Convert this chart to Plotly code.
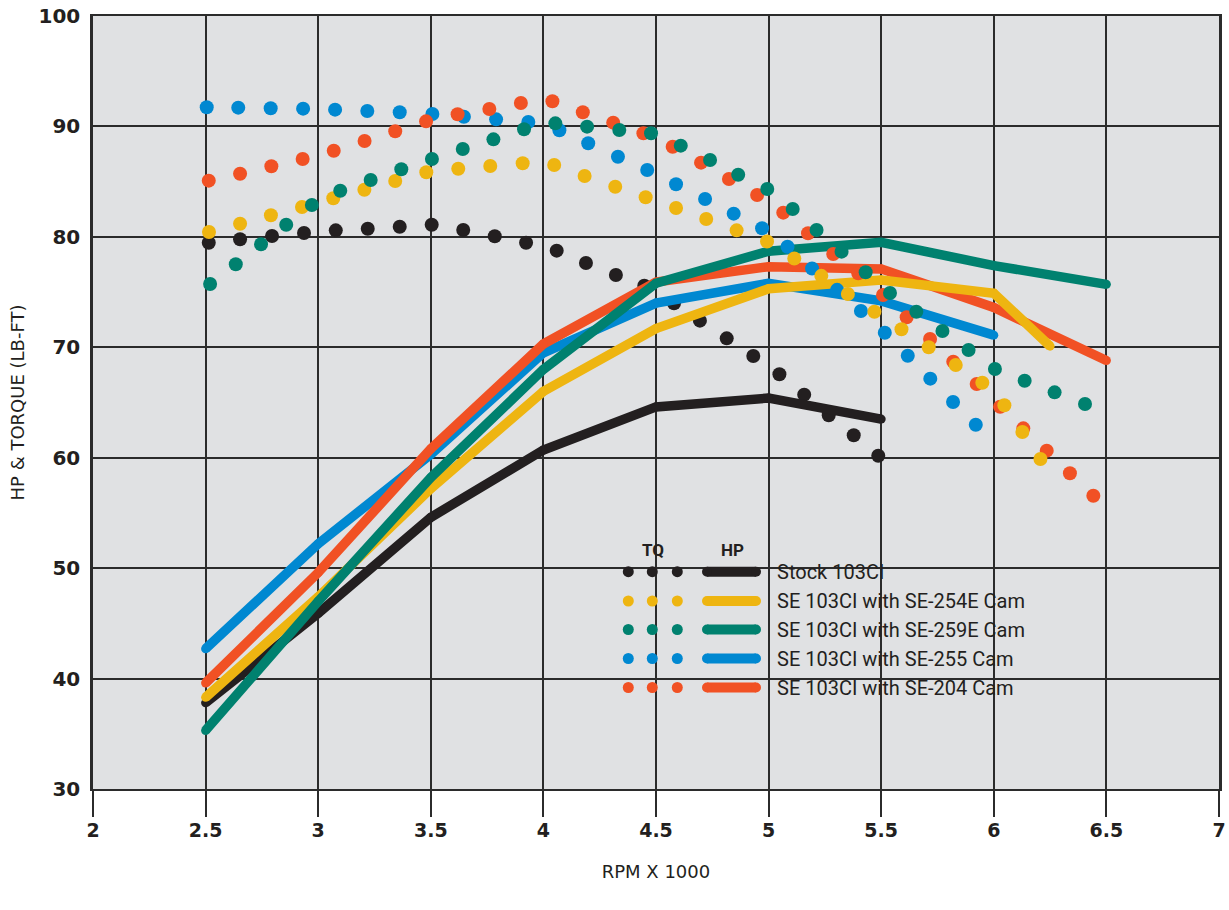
import plotly.graph_objects as go

# ---------------- data ----------------
hp_rpm = [2.5, 3.0, 3.5, 4.0, 4.5, 5.0, 5.5, 6.0, 6.5]
hp_rpm_254 = [2.5, 3.0, 3.5, 4.0, 4.5, 5.0, 5.5, 6.0, 6.25]

hp_stock = [37.8, 45.9, 54.6, 60.7, 64.6, 65.4, 63.5]
hp_254 = [38.3, 47.4, 57.2, 66.0, 71.7, 75.3, 76.1, 74.9, 70.1]
hp_259 = [35.3, 47.0, 58.2, 68.0, 75.8, 78.7, 79.5, 77.4, 75.7]
hp_255 = [42.7, 52.2, 60.3, 69.5, 74.0, 75.8, 74.2, 71.1]
hp_204 = [39.6, 49.6, 60.8, 70.3, 75.9, 77.3, 77.1, 73.6, 68.8]

tq_stock_rpm = [2.514, 2.653, 2.795, 2.937, 3.078, 3.220, 3.362, 3.504, 3.644, 3.784, 3.923, 4.059,
                4.189, 4.322, 4.448, 4.580, 4.695, 4.814, 4.932, 5.048, 5.158, 5.267, 5.378, 5.487]
tq_stock = [79.47, 79.78, 80.08, 80.35, 80.59, 80.74, 80.92, 81.10, 80.62, 80.05, 79.47, 78.75,
            77.63, 76.55, 75.58, 73.98, 72.41, 70.81, 69.21, 67.56, 65.71, 63.84, 62.03, 60.18]

tq_254_rpm = [2.515, 2.653, 2.790, 2.928, 3.067, 3.205, 3.342, 3.480, 3.622, 3.764, 3.908, 4.048,
              4.183, 4.319, 4.454, 4.589, 4.723, 4.858, 4.993, 5.114, 5.234, 5.352, 5.470, 5.590,
              5.711, 5.831, 5.949, 6.047, 6.127, 6.207]
tq_254 = [80.44, 81.19, 81.95, 82.70, 83.49, 84.27, 85.06, 85.85, 86.17, 86.42, 86.66, 86.51,
          85.51, 84.54, 83.58, 82.61, 81.62, 80.59, 79.58, 78.04, 76.47, 74.83, 73.22, 71.63,
          70.00, 68.40, 66.79, 64.75, 62.33, 59.88]

tq_259_rpm = [2.520, 2.634, 2.746, 2.858, 2.972, 3.098, 3.233, 3.369, 3.505, 3.642, 3.778, 3.914,
              4.053, 4.194, 4.337, 4.478, 4.610, 4.740, 4.865, 4.994, 5.107, 5.213, 5.324, 5.431,
              5.539, 5.656, 5.772, 5.888, 6.005, 6.137, 6.270, 6.405]
tq_259 = [75.73, 77.52, 79.33, 81.10, 82.88, 84.18, 85.15, 86.12, 87.05, 87.96, 88.83, 89.74,
          90.28, 89.98, 89.68, 89.38, 88.26, 86.96, 85.63, 84.33, 82.52, 80.62, 78.66, 76.79,
          74.92, 73.22, 71.48, 69.75, 68.03, 66.97, 65.92, 64.86]

tq_255_rpm = [2.505, 2.645, 2.789, 2.933, 3.075, 3.218, 3.362, 3.507, 3.647, 3.790, 3.933, 4.071,
              4.199, 4.331, 4.461, 4.589, 4.718, 4.845, 4.971, 5.084, 5.193, 5.304, 5.410, 5.516,
              5.618, 5.718, 5.819, 5.920]
tq_255 = [91.73, 91.70, 91.64, 91.61, 91.52, 91.40, 91.28, 91.13, 90.88, 90.64, 90.40, 89.65,
          88.47, 87.26, 86.05, 84.76, 83.43, 82.10, 80.78, 79.11, 77.13, 75.20, 73.29, 71.32,
          69.24, 67.16, 65.05, 62.99]

tq_204_rpm = [2.514, 2.653, 2.792, 2.931, 3.069, 3.206, 3.342, 3.479, 3.619, 3.760, 3.900, 4.040,
              4.175, 4.310, 4.444, 4.574, 4.700, 4.824, 4.949, 5.065, 5.175, 5.287, 5.398, 5.508,
              5.613, 5.717, 5.820, 5.924, 6.028, 6.131, 6.235, 6.338, 6.442]
tq_204 = [85.09, 85.72, 86.39, 87.05, 87.80, 88.68, 89.56, 90.46, 91.10, 91.58, 92.12, 92.28,
          91.28, 90.34, 89.38, 88.16, 86.72, 85.24, 83.79, 82.19, 80.32, 78.45, 76.70, 74.74,
          72.72, 70.75, 68.70, 66.68, 64.62, 62.66, 60.64, 58.59, 56.56]

series_names = ["Stock 103CI", "SE 103CI with SE-254E Cam", "SE 103CI with SE-259E Cam",
                "SE 103CI with SE-255 Cam", "SE 103CI with SE-204 Cam"]
x_ticks = [2, 2.5, 3, 3.5, 4, 4.5, 5, 5.5, 6, 6.5, 7]
x_tick_text = ["2", "2.5", "3", "3.5", "4", "4.5", "5", "5.5", "6", "6.5", "7"]
y_ticks = [30, 40, 50, 60, 70, 80, 90, 100]

# ---------------- style ----------------
C_BLACK = "#231f20"
C_YEL = "#eeb511"
C_GRN = "#00816f"
C_BLU = "#0088d1"
C_RED = "#f15124"
BG = "#e0e1e3"
GRID = "#2b2b2b"
colors = [C_BLACK, C_YEL, C_GRN, C_BLU, C_RED]

LW = 9.5
DOT = 14

fig = go.Figure()

def add_line(x, y, c):
    fig.add_trace(go.Scatter(x=x, y=y, mode="lines+markers",
                             line=dict(color=c, width=LW),
                             marker=dict(color=c, size=LW - 0.5),
                             showlegend=False, hoverinfo="skip"))

def add_dots(x, y, c):
    fig.add_trace(go.Scatter(x=x, y=y, mode="markers",
                             marker=dict(color=c, size=DOT, line=dict(width=0)),
                             showlegend=False, hoverinfo="skip"))

# z-order: black dots, lines, colored dots
add_dots(tq_stock_rpm, tq_stock, C_BLACK)
add_line(hp_rpm[:len(hp_255)], hp_255, C_BLU)
add_line(hp_rpm[:len(hp_stock)], hp_stock, C_BLACK)
add_line(hp_rpm, hp_204, C_RED)
add_line(hp_rpm_254, hp_254, C_YEL)
add_line(hp_rpm, hp_259, C_GRN)
add_dots(tq_255_rpm, tq_255, C_BLU)
add_dots(tq_204_rpm, tq_204, C_RED)
add_dots(tq_254_rpm, tq_254, C_YEL)
add_dots(tq_259_rpm, tq_259, C_GRN)

# ---------------- legend (custom, in paper coords) ----------------
W, H = 1229, 910
L, R, T, B = 93, 10, 16, 121
PW, PH = W - L - R, H - T - B

def px(xp):
    return (xp - L) / PW

def py(yp):
    return (H - B - yp) / PH

shapes = []
annotations = []
shapes.append(dict(type="rect", xref="paper", yref="paper", layer="between",
                   x0=px(603), x1=px(1053), y0=py(710), y1=py(531),
                   fillcolor=BG, line=dict(width=0)))
for hdr, hx in [("TQ", 653), ("HP", 732)]:
    annotations.append(dict(xref="paper", yref="paper", x=px(hx), y=py(550),
                            text="<b>" + hdr + "</b>", xanchor="center", yanchor="middle",
                            showarrow=False, font=dict(family="Roboto", size=17, color=C_BLACK)))
row_y = [571.7, 601, 629.5, 658.5, 687.5]
for name, c, ry in zip(series_names, colors, row_y):
    for dx in [628.3, 652.3, 677.3]:
        shapes.append(dict(type="circle", xref="paper", yref="paper", layer="above",
                           xsizemode="pixel", ysizemode="pixel",
                           xanchor=px(dx), yanchor=py(ry), x0=-5.5, x1=5.5, y0=-5.5, y1=5.5,
                           fillcolor=c, line=dict(width=0)))
    shapes.append(dict(type="line", xref="paper", yref="paper", layer="above",
                       x0=px(707), x1=px(756), y0=py(ry), y1=py(ry),
                       line=dict(color=c, width=10)))
    for ex in [707, 756]:
        shapes.append(dict(type="circle", xref="paper", yref="paper", layer="above",
                           xsizemode="pixel", ysizemode="pixel",
                           xanchor=px(ex), yanchor=py(ry), x0=-5, x1=5, y0=-5, y1=5,
                           fillcolor=c, line=dict(width=0)))
    annotations.append(dict(xref="paper", yref="paper", x=px(775), y=py(ry), text=name,
                            xanchor="left", yanchor="middle", showarrow=False,
                            font=dict(family="Roboto", size=20, color=C_BLACK)))

fig.update_layout(
    width=W, height=H,
    margin=dict(l=L, r=R, t=T, b=B),
    paper_bgcolor="white",
    plot_bgcolor=BG,
    showlegend=False,
    shapes=shapes,
    annotations=annotations,
    xaxis=dict(range=[2, 7], tickvals=x_ticks, ticktext=x_tick_text,
               showgrid=True, gridcolor=GRID, gridwidth=2,
               showline=True, linecolor=GRID, linewidth=2, mirror=True,
               ticks="outside", ticklen=26, tickwidth=1.5, tickcolor=GRID,
               ticklabelstandoff=-3,
               zeroline=False, automargin=False,
               tickfont=dict(family="DejaVu Sans", size=19, color=C_BLACK, weight="bold"),
               title=dict(text="RPM X 1000", standoff=26,
                          font=dict(family="DejaVu Sans", size=18, color=C_BLACK))),
    yaxis=dict(range=[30, 100], tickvals=y_ticks,
               showgrid=True, gridcolor=GRID, gridwidth=2,
               showline=True, linecolor=GRID, linewidth=2.5, mirror=True,
               ticks="", ticklabelstandoff=6,
               zeroline=False, automargin=False,
               tickfont=dict(family="DejaVu Sans", size=20, color=C_BLACK, weight="bold"),
               title=dict(text="HP & TORQUE (LB-FT)", standoff=10,
                          font=dict(family="DejaVu Sans", size=18, color=C_BLACK))),
)

fig.write_html("out.html", config={"displayModeBar": False},
               post_script="document.body.style.margin='0';")
